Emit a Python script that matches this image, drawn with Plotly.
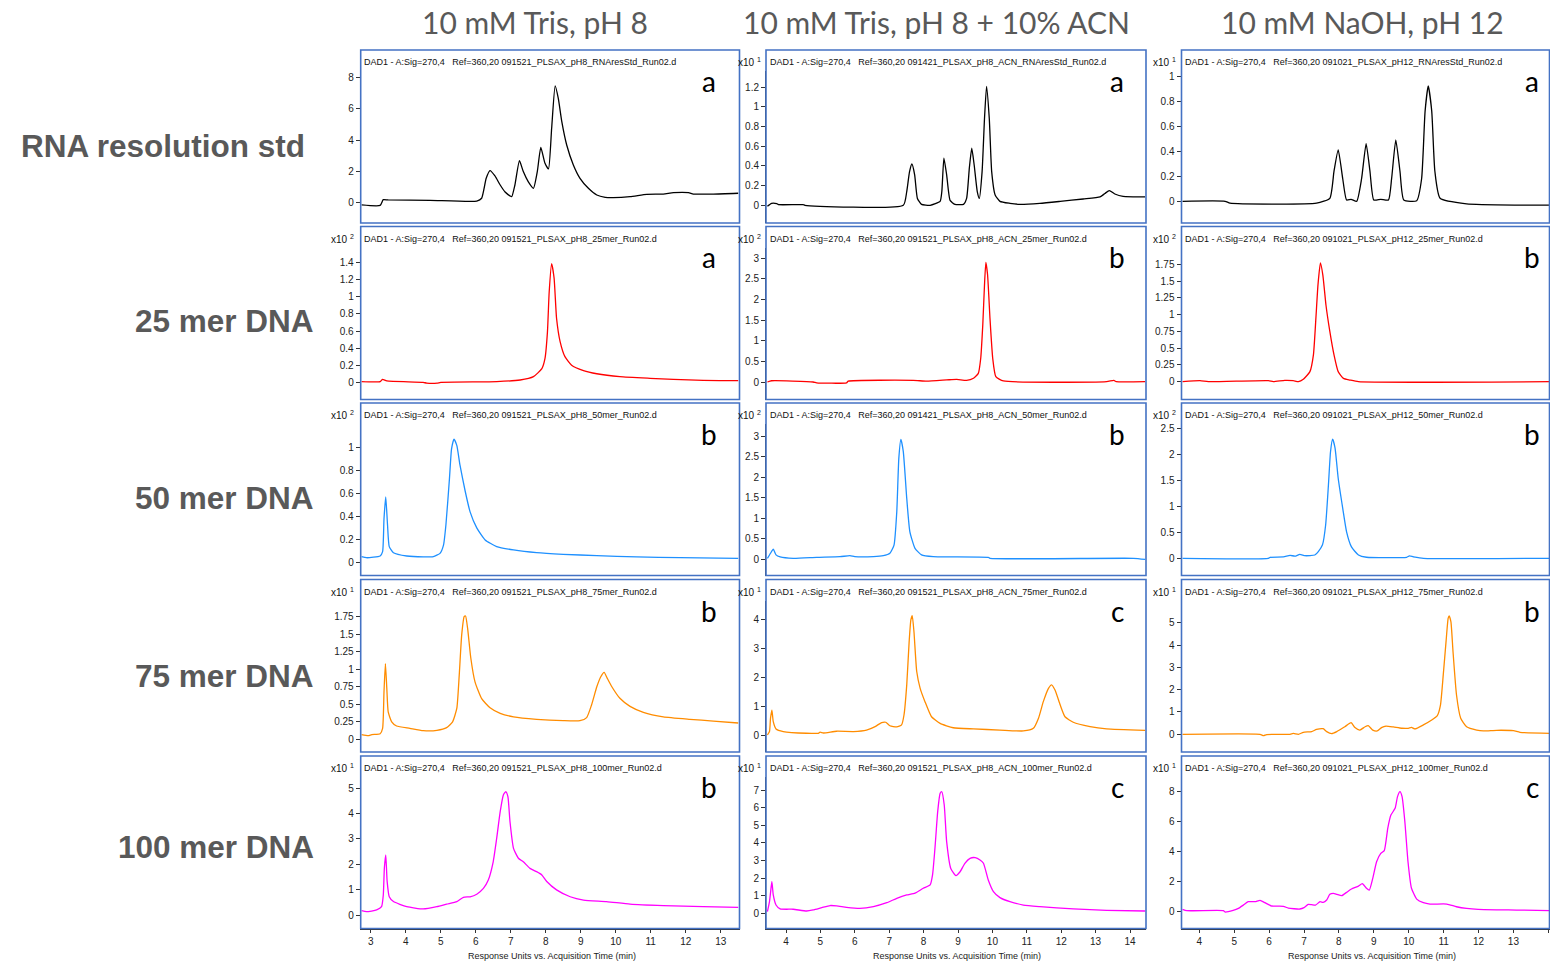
import plotly.graph_objects as go

# ---------------- DATA ----------------
row_labels = ["RNA resolution std", "25 mer DNA", "50 mer DNA", "75 mer DNA", "100 mer DNA"]
col_labels = ["10 mM Tris, pH 8", "10 mM Tris, pH 8 + 10% ACN", "10 mM NaOH, pH 12"]
panel_letters = [["a", "a", "a"], ["a", "b", "b"], ["b", "b", "b"], ["b", "c", "b"], ["b", "c", "c"]]
multipliers = [[None, "1", "1"], ["2", "2", "2"], ["2", "2", "2"], ["1", "1", "1"], ["1", "1", "1"]]
file_names = [
    ["091521_PLSAX_pH8_RNAresStd_Run02.d", "091421_PLSAX_pH8_ACN_RNAresStd_Run02.d", "091021_PLSAX_pH12_RNAresStd_Run02.d"],
    ["091521_PLSAX_pH8_25mer_Run02.d", "091521_PLSAX_pH8_ACN_25mer_Run02.d", "091021_PLSAX_pH12_25mer_Run02.d"],
    ["091521_PLSAX_pH8_50mer_Run02.d", "091421_PLSAX_pH8_ACN_50mer_Run02.d", "091021_PLSAX_pH12_50mer_Run02.d"],
    ["091521_PLSAX_pH8_75mer_Run02.d", "091521_PLSAX_pH8_ACN_75mer_Run02.d", "091021_PLSAX_pH12_75mer_Run02.d"],
    ["091521_PLSAX_pH8_100mer_Run02.d", "091521_PLSAX_pH8_ACN_100mer_Run02.d", "091021_PLSAX_pH12_100mer_Run02.d"],
]

ytick_text = [
    [["0", "2", "4", "6", "8"], ["0", "0.2", "0.4", "0.6", "0.8", "1", "1.2"], ["0", "0.2", "0.4", "0.6", "0.8", "1"]],
    [["0", "0.2", "0.4", "0.6", "0.8", "1", "1.2", "1.4"], ["0", "0.5", "1", "1.5", "2", "2.5", "3"],
     ["0", "0.25", "0.5", "0.75", "1", "1.25", "1.5", "1.75"]],
    [["0", "0.2", "0.4", "0.6", "0.8", "1"], ["0", "0.5", "1", "1.5", "2", "2.5", "3"], ["0", "0.5", "1", "1.5", "2", "2.5"]],
    [["0", "0.25", "0.5", "0.75", "1", "1.25", "1.5", "1.75"], ["0", "1", "2", "3", "4"], ["0", "1", "2", "3", "4", "5"]],
    [["0", "1", "2", "3", "4", "5"], ["0", "1", "2", "3", "4", "5", "6", "7"], ["0", "2", "4", "6", "8"]],
]
xtick_vals = [[3, 4, 5, 6, 7, 8, 9, 10, 11, 12, 13],
              [4, 5, 6, 7, 8, 9, 10, 11, 12, 13, 14],
              [4, 5, 6, 7, 8, 9, 10, 11, 12, 13, 14]]

# RNA resolution standard
rna_ph8_t = [2.74, 3.27, 3.36, 3.5, 4.7, 6.03, 6.17, 6.3, 6.41, 6.55, 6.7, 6.84, 6.98, 7.03, 7.12, 7.25, 7.36, 7.5,
             7.65, 7.76, 7.86, 7.98, 8.08, 8.17, 8.27, 8.36, 8.46, 8.6, 8.79, 8.98, 9.22, 9.46, 9.7, 9.93, 10.41,
             10.89, 11.36, 11.65, 12.08, 12.22, 12.79, 13.5]
rna_ph8_y = [-0.17, -0.2, 0.17, 0.15, 0.13, 0.08, 0.26, 1.54, 2.03, 1.69, 1.11, 0.66, 0.41, 0.36, 1.11, 2.67, 1.97,
             1.33, 0.9, 1.97, 3.53, 2.5, 2.14, 4.75, 7.47, 6.67, 5.18, 3.68, 2.4, 1.54, 0.9, 0.47, 0.32, 0.3, 0.36,
             0.51, 0.53, 0.62, 0.62, 0.53, 0.53, 0.58]
rna_acn_t = [3.46, 3.58, 3.73, 3.78, 4.5, 4.55, 7.41, 7.51, 7.59, 7.66, 7.74, 7.82, 7.94, 8.19, 8.48, 8.53, 8.59, 8.67,
             8.77, 8.91, 9.16, 9.25, 9.33, 9.4, 9.47, 9.56, 9.62, 9.7, 9.77, 9.83, 9.91, 9.98, 10.08, 10.22, 10.51,
             10.8, 11.38, 11.97, 12.64, 13.13, 13.27, 13.4, 13.56, 13.8, 14.44]
rna_acn_y = [-0.01, 0.02, 0.017, 0.007, 0.007, 0.0, 0.0, 0.14, 0.34, 0.42, 0.31, 0.07, 0.01, 0.0, 0.04, 0.14, 0.48,
             0.31, 0.05, 0.01, 0.01, 0.07, 0.38, 0.58, 0.41, 0.14, 0.07, 0.34, 0.88, 1.21, 0.88, 0.34, 0.105, 0.04,
             0.02, 0.01, 0.02, 0.04, 0.064, 0.085, 0.12, 0.15, 0.115, 0.09, 0.085]
rna_ph12_t = [3.52, 4.74, 4.88, 7.36, 7.74, 7.86, 7.98, 8.11, 8.22, 8.35, 8.51, 8.65, 8.78, 8.89, 9.0, 9.2, 9.42, 9.51,
              9.63, 9.75, 9.86, 10.23, 10.37, 10.47, 10.56, 10.66, 10.75, 10.9, 11.66, 13.09, 14.05]
rna_ph12_y = [0.0, 0.0, -0.015, -0.015, 0.024, 0.24, 0.41, 0.18, 0.01, 0.016, 0.0, 0.18, 0.46, 0.24, 0.01, 0.016,
              0.01, 0.18, 0.49, 0.24, 0.01, 0.005, 0.18, 0.72, 0.92, 0.72, 0.24, 0.024, -0.02, -0.03, -0.03]

# 25 mer DNA
m25_ph8_t = [2.74, 3.27, 3.34, 3.46, 4.5, 4.6, 4.9, 5.0, 6.6, 7.27, 7.65, 7.89, 7.98, 8.05, 8.1, 8.17, 8.24, 8.31,
             8.41, 8.55, 8.74, 9.08, 9.46, 10.12, 10.98, 11.65, 12.5, 13.5]
m25_ph8_y = [0.008, 0.008, 0.035, 0.016, 0.0, -0.01, -0.01, 0.0, 0.008, 0.027, 0.066, 0.16, 0.28, 0.59, 1.06, 1.39,
             1.22, 0.75, 0.48, 0.3, 0.2, 0.137, 0.1, 0.066, 0.047, 0.035, 0.023, 0.02]
m25_acn_t = [3.46, 3.58, 4.79, 4.89, 5.76, 5.81, 7.7, 8.09, 8.67, 8.96, 9.25, 9.45, 9.59, 9.66, 9.72, 9.77, 9.81, 9.86,
             9.93, 10.01, 10.1, 10.32, 13.32, 13.53, 13.6, 14.44]
m25_acn_y = [0.0, 0.03, 0.0, -0.02, -0.02, 0.02, 0.04, 0.02, 0.05, 0.065, 0.04, 0.09, 0.21, 0.57, 1.38, 2.35, 2.9,
             2.6, 1.54, 0.57, 0.13, 0.025, 0.01, 0.04, 0.01, 0.01]
m25_ph12_t = [3.52, 4.02, 4.26, 5.98, 6.12, 6.45, 6.69, 6.84, 6.98, 7.17, 7.27, 7.34, 7.4, 7.47, 7.54, 7.63, 7.74,
              7.86, 7.98, 8.13, 8.32, 8.56, 14.05]
m25_ph12_y = [0.0, 0.015, 0.0, 0.015, 0.0, 0.02, 0.015, 0.0, 0.035, 0.15, 0.4, 0.94, 1.44, 1.77, 1.59, 1.14, 0.75,
              0.4, 0.15, 0.05, 0.025, 0.0, 0.0]

# 50 mer DNA
m50_ph8_t = [2.74, 2.88, 3.27, 3.34, 3.38, 3.43, 3.48, 3.53, 3.65, 4.03, 4.5, 4.79, 4.98, 5.08, 5.15, 5.25, 5.31,
             5.38, 5.46, 5.55, 5.7, 5.84, 6.03, 6.27, 6.6, 7.08, 7.74, 8.5, 9.46, 10.6, 11.84, 13.5]
m50_ph8_y = [0.05, 0.04, 0.055, 0.093, 0.38, 0.57, 0.33, 0.137, 0.084, 0.055, 0.047, 0.05, 0.078, 0.15, 0.33, 0.73,
             0.99, 1.075, 1.02, 0.85, 0.62, 0.44, 0.3, 0.195, 0.137, 0.108, 0.084, 0.07, 0.058, 0.047, 0.04, 0.035]
m50_acn_t = [3.46, 3.55, 3.63, 3.71, 3.83, 4.21, 4.89, 5.57, 5.86, 6.0, 6.54, 6.83, 7.02, 7.14, 7.22, 7.28, 7.34,
             7.41, 7.51, 7.6, 7.75, 7.94, 8.28, 9.88, 9.93, 14.1, 14.44]
m50_acn_y = [0.016, 0.14, 0.24, 0.1, 0.05, 0.016, 0.04, 0.057, 0.08, 0.057, 0.057, 0.08, 0.14, 0.34, 1.15, 2.46, 2.92,
             2.62, 1.48, 0.67, 0.26, 0.1, 0.057, 0.04, 0.016, 0.016, -0.01]
m50_ph12_t = [3.52, 5.98, 6.03, 6.41, 6.6, 6.74, 6.88, 7.03, 7.31, 7.41, 7.53, 7.62, 7.7, 7.76, 7.82, 7.89, 7.98,
              8.11, 8.22, 8.36, 8.56, 8.79, 9.94, 10.02, 10.13, 10.42, 14.05]
m50_ph12_y = [0.0, 0.0, 0.02, 0.026, 0.058, 0.04, 0.077, 0.05, 0.064, 0.13, 0.26, 0.64, 1.41, 2.05, 2.29, 2.12, 1.54,
              0.96, 0.51, 0.22, 0.064, 0.02, 0.02, 0.045, 0.03, 0.0, 0.0]

# 75 mer DNA
m75_ph8_t = [2.74, 2.93, 3.03, 3.27, 3.34, 3.38, 3.42, 3.46, 3.5, 3.6, 3.74, 4.12, 4.5, 4.89, 5.17, 5.34, 5.46, 5.53,
             5.6, 5.67, 5.71, 5.77, 5.86, 5.98, 6.17, 6.41, 6.7, 7.08, 7.74, 8.5, 8.98, 9.17, 9.31, 9.46, 9.57, 9.67,
             9.76, 9.89, 10.12, 10.41, 10.79, 11.36, 12.12, 12.79, 13.5]
m75_ph8_y = [0.067, 0.052, 0.067, 0.08, 0.157, 0.68, 1.08, 0.73, 0.39, 0.25, 0.19, 0.157, 0.124, 0.128, 0.166, 0.25,
             0.44, 0.92, 1.49, 1.75, 1.76, 1.58, 1.16, 0.82, 0.58, 0.45, 0.37, 0.32, 0.285, 0.266, 0.266, 0.31, 0.49,
             0.75, 0.89, 0.956, 0.87, 0.75, 0.585, 0.47, 0.385, 0.32, 0.285, 0.26, 0.233]
m75_acn_t = [3.46, 3.52, 3.55, 3.59, 3.63, 3.71, 3.92, 4.6, 4.94, 4.99, 5.09, 5.47, 5.96, 6.34, 6.59, 6.78, 6.9, 7.02,
             7.22, 7.36, 7.43, 7.51, 7.58, 7.63, 7.67, 7.72, 7.8, 7.9, 8.04, 8.23, 8.48, 8.86, 9.45, 10.22, 10.9,
             11.19, 11.34, 11.48, 11.63, 11.72, 11.82, 11.97, 12.11, 12.35, 12.84, 13.32, 14.44]
m75_acn_y = [0.01, 0.13, 0.59, 0.87, 0.47, 0.22, 0.13, 0.07, 0.07, 0.11, 0.08, 0.14, 0.13, 0.18, 0.3, 0.44, 0.45,
             0.33, 0.29, 0.36, 0.7, 1.74, 3.23, 3.98, 4.13, 3.57, 2.2, 1.62, 1.16, 0.64, 0.41, 0.26, 0.22, 0.18, 0.15,
             0.24, 0.59, 1.16, 1.62, 1.74, 1.56, 1.05, 0.64, 0.45, 0.3, 0.22, 0.17]
m75_ph12_t = [3.52, 5.74, 5.84, 5.93, 6.6, 6.69, 6.84, 6.98, 7.22, 7.36, 7.55, 7.65, 7.79, 7.94, 8.17, 8.35, 8.46, 8.6,
              8.75, 8.84, 8.97, 9.1, 9.22, 9.35, 9.56, 9.8, 9.99, 10.08, 10.18, 10.42, 10.66, 10.82, 10.91, 10.99,
              11.07, 11.13, 11.16, 11.21, 11.27, 11.37, 11.49, 11.66, 11.95, 12.14, 12.52, 13.0, 13.19, 14.05]
m75_ph12_y = [0.0, 0.0, -0.06, -0.01, 0.0, 0.04, 0.0, 0.09, 0.12, 0.22, 0.25, 0.12, 0.03, 0.12, 0.34, 0.52, 0.3, 0.19,
              0.34, 0.39, 0.19, 0.15, 0.3, 0.37, 0.33, 0.27, 0.27, 0.31, 0.24, 0.42, 0.64, 0.84, 1.31, 2.66, 4.15,
              5.19, 5.31, 5.04, 3.7, 1.76, 0.72, 0.34, 0.19, 0.15, 0.18, 0.16, 0.09, 0.045]

# 100 mer DNA
m100_ph8_t = [2.74, 2.88, 3.17, 3.31, 3.36, 3.39, 3.43, 3.47, 3.53, 3.65, 4.03, 4.5, 4.89, 5.17, 5.46, 5.65, 5.84,
              6.03, 6.22, 6.36, 6.5, 6.6, 6.7, 6.79, 6.86, 6.92, 6.98, 7.08, 7.22, 7.36, 7.55, 7.74, 7.89, 8.03, 8.31,
              8.7, 9.08, 9.74, 10.41, 11.36, 12.5, 13.5]
m100_ph8_y = [0.17, 0.13, 0.2, 0.33, 0.79, 1.84, 2.37, 1.32, 0.72, 0.53, 0.33, 0.24, 0.33, 0.43, 0.53, 0.7, 0.72, 0.82,
              1.05, 1.38, 2.1, 3.03, 4.08, 4.74, 4.87, 4.67, 3.68, 2.63, 2.24, 2.1, 1.84, 1.71, 1.58, 1.32, 0.99, 0.72,
              0.59, 0.53, 0.43, 0.37, 0.33, 0.3]
m100_acn_t = [3.46, 3.52, 3.57, 3.59, 3.63, 3.71, 3.83, 4.21, 4.6, 4.79, 5.04, 5.28, 5.47, 5.76, 6.15, 6.54, 6.93,
              7.22, 7.51, 7.75, 7.99, 8.19, 8.26, 8.33, 8.41, 8.48, 8.53, 8.6, 8.67, 8.79, 8.94, 9.06, 9.2, 9.35, 9.5,
              9.64, 9.74, 9.88, 10.03, 10.22, 10.51, 10.9, 11.38, 12.35, 13.32, 14.44]
m100_acn_y = [0.09, 0.66, 1.51, 1.8, 1.04, 0.47, 0.25, 0.23, 0.13, 0.19, 0.32, 0.44, 0.42, 0.34, 0.28, 0.38, 0.6, 0.85,
              1.04, 1.14, 1.42, 1.61, 2.18, 3.69, 5.77, 6.81, 6.9, 6.15, 4.07, 2.55, 2.14, 2.36, 2.84, 3.12, 3.16, 3.03,
              2.84, 1.89, 1.23, 0.89, 0.66, 0.47, 0.38, 0.25, 0.17, 0.13]
m100_ph12_t = [3.52, 3.64, 4.69, 4.74, 4.97, 5.12, 5.26, 5.4, 5.6, 5.74, 5.88, 6.07, 6.41, 6.55, 6.88, 7.0, 7.12,
               7.22, 7.33, 7.46, 7.55, 7.65, 7.74, 7.84, 7.94, 8.08, 8.22, 8.36, 8.56, 8.67, 8.79, 8.87, 8.97, 9.08,
               9.2, 9.3, 9.4, 9.49, 9.61, 9.68, 9.75, 9.81, 9.89, 9.98, 10.08, 10.23, 10.42, 10.61, 11.09, 11.37,
               11.66, 11.99, 13.09, 14.05]
m100_ph12_y = [0.16, 0.07, 0.07, -0.02, 0.09, 0.22, 0.44, 0.67, 0.67, 0.76, 0.6, 0.38, 0.36, 0.24, 0.18, 0.27, 0.49,
               0.47, 0.44, 0.67, 0.62, 0.78, 1.16, 1.22, 1.16, 1.07, 1.29, 1.51, 1.71, 1.87, 1.56, 1.44, 2.22, 3.33,
               3.89, 4.07, 5.56, 6.44, 6.89, 7.67, 8.0, 7.67, 6.0, 3.33, 1.56, 0.84, 0.6, 0.51, 0.51, 0.33, 0.22, 0.16,
               0.11, 0.07]

series = [
    [(rna_ph8_t, rna_ph8_y), (rna_acn_t, rna_acn_y), (rna_ph12_t, rna_ph12_y)],
    [(m25_ph8_t, m25_ph8_y), (m25_acn_t, m25_acn_y), (m25_ph12_t, m25_ph12_y)],
    [(m50_ph8_t, m50_ph8_y), (m50_acn_t, m50_acn_y), (m50_ph12_t, m50_ph12_y)],
    [(m75_ph8_t, m75_ph8_y), (m75_acn_t, m75_acn_y), (m75_ph12_t, m75_ph12_y)],
    [(m100_ph8_t, m100_ph8_y), (m100_acn_t, m100_acn_y), (m100_ph12_t, m100_ph12_y)],
]

# ---------------- LAYOUT / STYLE ----------------
W, H = 1550, 961
row_colors = ["#000000", "#ff0000", "#1e90ff", "#ff8c00", "#ff00ff"]
box_color = "#4472c4"
axis_color = "#333333"
text_gray = "#595959"
small_font = "Liberation Sans, Arial"

col_box = [(360.7, 739.5), (766.0, 1146.0), (1181.5, 1549.5)]
# x calibration: (tick value, pixel of tick, pixels per minute)
col_xcal = [(3, 370.7, 35.0), (4, 786.0, 34.4), (4, 1199.3, 34.9)]
row_box = [(50, 223), (226.5, 399.5), (403, 575.5), (579.5, 752), (756, 928.5)]
title_band = 21
# y calibration: (tick value, pixel of that tick, pixel of zero)
ycal = [
    [(8, 77.7, 202.3), (1.2, 87.3, 205.3), (1, 76.0, 201.3)],
    [(1.4, 262.7, 382.3), (3, 258.3, 382.0), (1.75, 264.3, 381.7)],
    [(1, 447.7, 562.3), (3, 436.0, 559.0), (2.5, 428.3, 558.3)],
    [(1.75, 616.7, 739.3), (4, 619.3, 735.3), (5, 622.7, 734.3)],
    [(5, 788.3, 915.0), (7, 790.0, 913.3), (8, 791.7, 911.7)],
]
letter_x = [708.5, 1117.0, 1532.0]
mult_x = [356.0, 763.0, 1177.5]
xtitle_x = [551.7, 956.7, 1371.7]
row_label_x = [306.5, 315.5, 315.5, 315.5, 315.5]
row_label_y = [146, 321, 498, 676, 847]


def fx(px):
    return px / W


def fy(px):
    return 1 - px / H


fig = go.Figure()
layout = dict(
    width=W, height=H, margin=dict(l=0, r=0, t=0, b=0),
    paper_bgcolor="white", plot_bgcolor="white", showlegend=False,
)
annotations = []
shapes = []

for r in range(5):
    bt, bb = row_box[r]
    pt = bt + title_band
    for c in range(3):
        k = r * 3 + c + 1
        xs = "" if k == 1 else str(k)
        bl, br = col_box[c]
        tv, tpx, ppm = col_xcal[c]
        x0 = tv + (bl - tpx) / ppm
        x1 = tv + (br - tpx) / ppm
        yv, ypx, zpx = ycal[r][c]
        s = (zpx - ypx) / yv
        y0 = -(bb - zpx) / s
        y1 = (zpx - pt) / s

        t, y = series[r][c]
        fig.add_trace(go.Scatter(
            x=t, y=y, mode="lines", xaxis="x" + xs, yaxis="y" + xs,
            line=dict(color=row_colors[r], width=1.3, shape="spline", smoothing=0.5),
            hoverinfo="skip"))

        bottom = (r == 4)
        layout["xaxis" + xs] = dict(
            domain=[fx(bl), fx(br)], range=[x0, x1], anchor="y" + xs,
            showgrid=False, zeroline=False, showline=bottom, linecolor=axis_color,
            ticks="outside" if bottom else "", ticklen=3, tickcolor=axis_color,
            showticklabels=bottom, tickmode="array", tickvals=xtick_vals[c],
            tickfont=dict(family="Liberation Sans, Arial", size=10, color="#222222"),
            fixedrange=True)
        tt = ytick_text[r][c]
        layout["yaxis" + xs] = dict(
            domain=[fy(bb), fy(pt)], range=[y0, y1], anchor="x" + xs,
            showgrid=False, zeroline=False, showline=True, linecolor=axis_color, linewidth=1,
            ticks="outside", ticklen=4, tickcolor=axis_color,
            tickmode="array", tickvals=[float(v) for v in tt], ticktext=tt,
            tickfont=dict(family="Liberation Sans, Arial", size=10, color="#222222"),
            fixedrange=True)

        shapes.append(dict(type="rect", xref="paper", yref="paper",
                           x0=fx(bl), x1=fx(br), y0=fy(bb), y1=fy(bt),
                           line=dict(color=box_color, width=1.6), layer="above"))

        annotations.append(dict(
            x=fx(bl + 1.5), y=fy(bt + 12), xref="paper", yref="paper", xanchor="left", yanchor="middle",
            showarrow=False,
            text="DAD1 - A:Sig=270,4\u00a0\u00a0\u00a0Ref=360,20 " + file_names[r][c],
            font=dict(family=small_font, size=9, color="#111111")))
        if multipliers[r][c]:
            annotations.append(dict(
                x=fx(mult_x[c]), y=fy(bt + 12), xref="paper", yref="paper", xanchor="right",
                yanchor="middle", showarrow=False,
                text="x10 <sup>" + multipliers[r][c] + "</sup>",
                font=dict(family=small_font, size=10, color="#111111")))
        annotations.append(dict(
            x=fx(letter_x[c]), y=fy(bt + 31), xref="paper", yref="paper", xanchor="center",
            yanchor="middle", showarrow=False, text=panel_letters[r][c],
            font=dict(family="Lato, Open Sans", size=28, color="#000000")))

    # row label
    annotations.append(dict(
        x=fx(row_label_x[r]), y=fy(row_label_y[r]), xref="paper", yref="paper",
        xanchor="right", yanchor="middle", showarrow=False, text="<b>" + row_labels[r] + "</b>",
        font=dict(family="Liberation Sans, Arial", size=31.5, color=text_gray)))

for c in range(3):
    annotations.append(dict(
        x=fx([535, 936, 1362][c]), y=fy(22), xref="paper", yref="paper", xanchor="center",
        yanchor="middle", showarrow=False, text=col_labels[c],
        font=dict(family="Lato, Open Sans", size=30, color=text_gray)))
    annotations.append(dict(
        x=fx(xtitle_x[c]), y=fy(956), xref="paper", yref="paper", xanchor="center",
        yanchor="middle", showarrow=False, text="Response Units vs. Acquisition Time (min)",
        font=dict(family=small_font, size=9, color="#222222")))

layout["annotations"] = annotations
layout["shapes"] = shapes
fig.update_layout(**layout)
fig.write_html("out.html")
